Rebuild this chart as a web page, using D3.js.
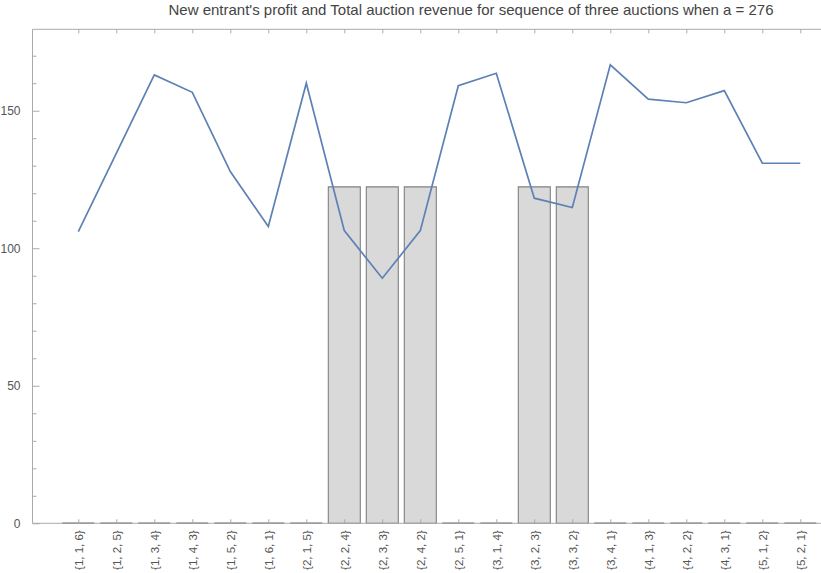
<!DOCTYPE html>
<html>
<head>
<meta charset="utf-8">
<script src="https://cdnjs.cloudflare.com/ajax/libs/d3/7.8.5/d3.min.js"></script>
<style>
  html, body { margin: 0; padding: 0; background: #fff; }
  svg { display: block; font-family: "Liberation Sans", Arial, sans-serif; }
</style>
</head>
<body>
<svg id="chart" width="821" height="573"></svg>
<script>
// Bid sequences for three auctions
const categories = [
  "{1, 1, 6}", "{1, 2, 5}", "{1, 3, 4}", "{1, 4, 3}", "{1, 5, 2}",
  "{1, 6, 1}", "{2, 1, 5}", "{2, 2, 4}", "{2, 3, 3}", "{2, 4, 2}",
  "{2, 5, 1}", "{3, 1, 4}", "{3, 2, 3}", "{3, 3, 2}", "{3, 4, 1}",
  "{4, 1, 3}", "{4, 2, 2}", "{4, 3, 1}", "{5, 1, 2}", "{5, 2, 1}"
];
// New entrant's profit (bars)
const profit = [
  0, 0, 0, 0, 0, 0, 0, 122.3, 122.3, 122.3,
  0, 0, 122.3, 122.3, 0, 0, 0, 0, 0, 0
];
// Total auction revenue (line)
const revenue = [
  106.0, 134.5, 163.0, 156.7, 127.9, 107.9, 160.0, 106.4, 89.1, 106.4,
  159.1, 163.6, 118.2, 114.8, 166.7, 154.2, 152.9, 157.3, 130.9, 130.9
];
const yMajorTicks = [0, 50, 100, 150];
const yMinorTicks = [10, 20, 30, 40, 60, 70, 80, 90, 110, 120, 130, 140, 160, 170];

const svg = d3.select("#chart");
const frame = { left: 32.5, right: 846, top: 29.3, bottom: 523.3 };

const x = d3.scalePoint().domain(categories).range([78.3, 800.3]);
const barW = 32;
const y = d3.scaleLinear().domain([0, 179.6]).range([frame.bottom, frame.top]);

const axisColor = "#aaaaaa";
const labelColor = "#555555";

// Title
svg.append("text")
  .attr("x", 471).attr("y", 15)
  .attr("text-anchor", "middle")
  .attr("font-size", 15)
  .attr("fill", "#444")
  .text("New entrant's profit and Total auction revenue for sequence of three auctions when a = 276");

// Bars (zero values collapse to a flat segment on the baseline)
svg.append("g").selectAll("path")
  .data(categories)
  .join("path")
  .attr("d", (c, i) => {
    const x0 = x(c) - barW / 2, x1 = x(c) + barW / 2;
    const y0 = y(0), y1 = y(profit[i]);
    return `M${x0},${y0}V${y1}H${x1}V${y0}Z`;
  })
  .attr("fill", "#d9d9d9")
  .attr("stroke", (c, i) => profit[i] > 0 ? "#808080" : "#6a6a6a")
  .attr("stroke-width", (c, i) => profit[i] > 0 ? 1.1 : 1.4);

// Frame lines
const g = svg.append("g").attr("stroke", axisColor).attr("stroke-width", 1).attr("fill", "none");
g.append("line").attr("x1", frame.left).attr("x2", frame.right).attr("y1", frame.bottom).attr("y2", frame.bottom);
g.append("line").attr("x1", frame.left).attr("x2", frame.right).attr("y1", frame.top).attr("y2", frame.top);
g.append("line").attr("x1", frame.left).attr("x2", frame.left).attr("y1", frame.top).attr("y2", frame.bottom);

// Y axis: inward major and minor ticks
const yAxis = d3.axisLeft(y).tickValues(yMajorTicks).tickSizeInner(-7).tickSizeOuter(0).tickPadding(12);
const ya = svg.append("g").attr("transform", `translate(${frame.left},0)`).call(yAxis);
ya.select(".domain").remove();
ya.selectAll(".tick line").attr("stroke", axisColor);
ya.selectAll(".tick text").attr("fill", labelColor).attr("font-size", 12)
  .attr("font-family", "Liberation Sans, Arial, sans-serif");

const yMinor = d3.axisLeft(y).tickValues(yMinorTicks).tickSizeInner(-4).tickSizeOuter(0).tickFormat("");
const ym = svg.append("g").attr("transform", `translate(${frame.left},0)`).call(yMinor);
ym.select(".domain").remove();
ym.selectAll(".tick line").attr("stroke", axisColor);

// X axis: inward ticks at bottom and top, rotated labels
const xAxis = d3.axisBottom(x).tickSizeInner(-4).tickSizeOuter(0).tickPadding(8);
const xa = svg.append("g").attr("transform", `translate(0,${frame.bottom})`).call(xAxis);
xa.select(".domain").remove();
xa.selectAll(".tick line").attr("stroke", axisColor);
xa.selectAll(".tick text")
  .attr("fill", labelColor)
  .attr("font-size", 11.5)
  .attr("font-family", "Liberation Sans, Arial, sans-serif")
  .attr("text-anchor", "end")
  .attr("dy", "0.35em")
  .attr("transform", "rotate(-90)")
  .attr("x", -7).attr("y", 0);

const xTop = d3.axisTop(x).tickSizeInner(-4).tickSizeOuter(0).tickFormat("");
const xt = svg.append("g").attr("transform", `translate(0,${frame.top})`).call(xTop);
xt.select(".domain").remove();
xt.selectAll(".tick line").attr("stroke", axisColor);

// Revenue line
const line = d3.line().x((d, i) => x(categories[i])).y(d => y(d));
svg.append("path")
  .datum(revenue)
  .attr("d", line)
  .attr("fill", "none")
  .attr("stroke", "#5e81b5")
  .attr("stroke-width", 1.7)
  .attr("stroke-linejoin", "miter");
</script>
</body>
</html>
